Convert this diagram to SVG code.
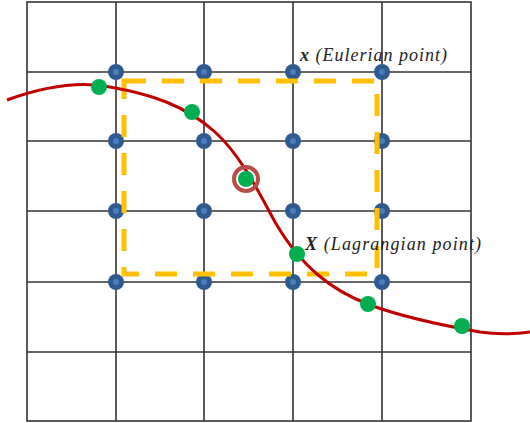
<svg xmlns="http://www.w3.org/2000/svg" width="530" height="423" viewBox="0 0 530 423">
<style>
.g{stroke:#333;stroke-width:1.6;fill:none}
.e{fill:#2f5a8f}
.c{fill:#4a7bbd}
.l{fill:#00b050}
.t{font-family:"Liberation Serif",serif;font-style:italic;font-size:18px;fill:#222}
</style>
<rect width="530" height="423" fill="#fff"/>
<g id="grid">
<rect class="g" x="27" y="2" width="444" height="419"/>
<path class="g" d="M116,2V421M204,2V421M293,2V421M382,2V421M27,72H471M27,141H471M27,211H471M27,282H471M27,352H471"/>
</g>
<g id="eulerian-points">
<circle class="e" cx="116" cy="72" r="8"/><circle class="e" cx="204" cy="72" r="8"/><circle class="e" cx="293" cy="72" r="8"/><circle class="e" cx="382" cy="72" r="8"/>
<circle class="e" cx="116" cy="141" r="8"/><circle class="e" cx="204" cy="141" r="8"/><circle class="e" cx="293" cy="141" r="8"/><circle class="e" cx="382" cy="141" r="8"/>
<circle class="e" cx="116" cy="211" r="8"/><circle class="e" cx="204" cy="211" r="8"/><circle class="e" cx="293" cy="211" r="8"/><circle class="e" cx="382" cy="211" r="8"/>
<circle class="e" cx="116" cy="282" r="8"/><circle class="e" cx="204" cy="282" r="8"/><circle class="e" cx="293" cy="282" r="8"/><circle class="e" cx="382" cy="282" r="8"/>
<circle class="c" cx="116" cy="72" r="3"/><circle class="c" cx="204" cy="72" r="3"/><circle class="c" cx="293" cy="72" r="3"/><circle class="c" cx="382" cy="72" r="3"/>
<circle class="c" cx="116" cy="141" r="3"/><circle class="c" cx="204" cy="141" r="3"/><circle class="c" cx="293" cy="141" r="3"/><circle class="c" cx="382" cy="141" r="3"/>
<circle class="c" cx="116" cy="211" r="3"/><circle class="c" cx="204" cy="211" r="3"/><circle class="c" cx="293" cy="211" r="3"/><circle class="c" cx="382" cy="211" r="3"/>
<circle class="c" cx="116" cy="282" r="3"/><circle class="c" cx="204" cy="282" r="3"/><circle class="c" cx="293" cy="282" r="3"/><circle class="c" cx="382" cy="282" r="3"/>
</g>
<g id="support-box">
<rect x="124" y="81" width="253" height="193" fill="none" stroke="#ffc000" stroke-width="5" stroke-dasharray="22,16"/>
</g>
<g id="connectors">
<path d="M7,100 C40,88 75,80 110,87 C150,94 185,105 215,132 C240,155 255,185 275,222 C300,265 330,290 370,305 C400,316 440,325 480,332 C500,335 515,334 530,332" fill="none" stroke="#c00000" stroke-width="3"/>
</g>
<g id="lagrangian-points">
<circle class="l" cx="99" cy="87" r="8"/>
<circle class="l" cx="192" cy="112" r="8"/>
<circle class="l" cx="246" cy="179" r="8"/>
<circle class="l" cx="297" cy="254" r="8"/>
<circle class="l" cx="368" cy="304" r="8"/>
<circle class="l" cx="462" cy="326" r="8"/>
<circle cx="246" cy="179" r="12" fill="none" stroke="#b84c48" stroke-width="4"/>
</g>
<g id="labels">
<text class="t" x="300" y="61" textLength="147" lengthAdjust="spacing"><tspan font-weight="bold">x</tspan> (Eulerian point)</text>
<text class="t" x="305" y="250" textLength="176" lengthAdjust="spacing"><tspan font-weight="bold">X</tspan> (Lagrangian point)</text>
</g>
</svg>
